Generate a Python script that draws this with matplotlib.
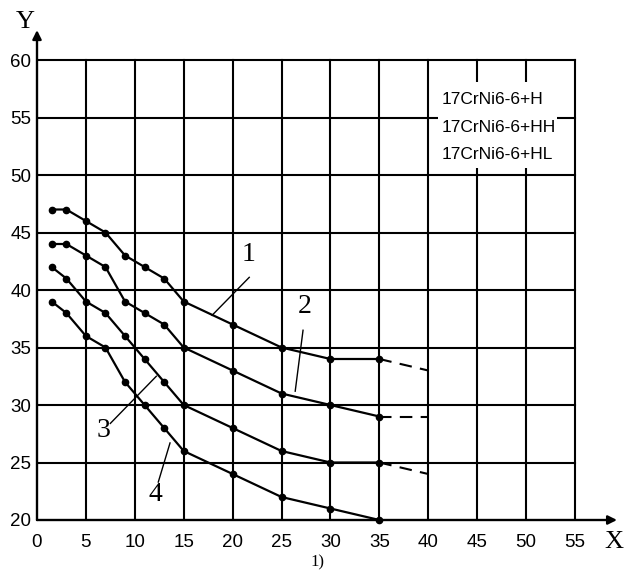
import matplotlib
matplotlib.use("Agg")
import matplotlib.pyplot as plt
from matplotlib.patches import Rectangle

# Hardness curves (distance X vs. value Y) for four grades
x_pts = [1.5, 3, 5, 7, 9, 11, 13, 15, 20, 25, 30, 35]
curve1 = [47, 47, 46, 45, 43, 42, 41, 39, 37, 35, 34, 34]
curve2 = [44, 44, 43, 42, 39, 38, 37, 35, 33, 31, 30, 29]
curve3 = [42, 41, 39, 38, 36, 34, 32, 30, 28, 26, 25, 25]
curve4 = [39, 38, 36, 35, 32, 30, 28, 26, 24, 22, 21, 20]

# Dashed continuation from x=35 to x=40 (curve 4 ends at 35)
ext_x = [35, 40]
ext1 = [34, 33]
ext2 = [29, 29]
ext3 = [25, 24]

curve_labels = ["1", "2", "3", "4"]
legend_lines = ["17CrNi6-6+H", "17CrNi6-6+HH", "17CrNi6-6+HL"]

x_ticks = [0, 5, 10, 15, 20, 25, 30, 35, 40, 45, 50, 55]
y_ticks = [20, 25, 30, 35, 40, 45, 50, 55, 60]

SANS = ["Liberation Sans", "DejaVu Sans"]
SERIF = ["Liberation Serif", "DejaVu Serif"]

fig = plt.figure(figsize=(6.3, 5.72), dpi=100)
fig.patch.set_facecolor("white")

XMAX, YMAX = 59.3, 62.6
ax = fig.add_axes([37 / 630, 52 / 572, 580 / 630, (520 - 30.1) / 572])
ax.set_xlim(0, XMAX)
ax.set_ylim(20, YMAX)
for s in ax.spines.values():
    s.set_visible(False)

# grid drawn as explicit segments
for xv in x_ticks[1:]:
    ax.plot([xv, xv], [20, 60], color="black", lw=1.5, zorder=1)
for yv in y_ticks[1:]:
    ax.plot([0, 55], [yv, yv], color="black", lw=1.5, zorder=1)

# axes with arrow heads
arrow = dict(arrowstyle="-|>", lw=1.7, color="black", mutation_scale=13,
             shrinkA=0, shrinkB=0)
ax.annotate("", xy=(XMAX, 20), xytext=(0, 20), arrowprops=arrow,
            annotation_clip=False, zorder=5)
ax.annotate("", xy=(0, YMAX), xytext=(0, 20), arrowprops=arrow,
            annotation_clip=False, zorder=5)

# legend text on a white patch
ax.add_patch(Rectangle((41.0, 50.6), 12.2, 7.5, facecolor="white",
                       edgecolor="none", zorder=3))
for txt, yy in zip(legend_lines, [56.6, 54.17, 51.74]):
    ax.text(41.4, yy, txt, ha="left", va="center", fontsize=12.5,
            family=SANS, zorder=4)

# curves
for ys in (curve1, curve2, curve3):
    ax.plot(x_pts, ys, color="black", lw=1.6, marker="o", ms=4.5, zorder=4)
ax.plot(x_pts, curve4, color="black", lw=1.6, marker="o", ms=4.5, zorder=4,
        clip_on=False)
for ys in (ext1, ext2, ext3):
    ax.plot(ext_x, ys, color="black", lw=1.5, dashes=(6, 4), zorder=4)

# curve numbers with leader lines
label_pos = [(21.6, 43.1), (27.4, 38.6), (6.8, 27.8), (12.1, 22.2)]
leaders = [((21.7, 41.1), (17.9, 37.8)),
           ((27.2, 36.5), (26.4, 31.2)),
           ((7.5, 28.4), (12.2, 32.5)),
           ((12.4, 23.3), (13.6, 26.7))]
for lab, (lx, ly), (p0, p1) in zip(curve_labels, label_pos, leaders):
    ax.text(lx, ly, lab, ha="center", va="center", fontsize=20,
            family=SERIF, zorder=6)
    ax.plot([p0[0], p1[0]], [p0[1], p1[1]], color="black", lw=1.0, zorder=6)

# ticks
ax.set_xticks(x_ticks)
ax.set_xticklabels([str(v) for v in x_ticks], family=SANS, fontsize=13.5)
ax.set_yticks(y_ticks)
ax.set_yticklabels([str(v) for v in y_ticks], family=SANS, fontsize=13.5)
ax.tick_params(axis="x", length=0, pad=10)
ax.tick_params(axis="y", length=0, pad=4)

# axis letters
fig.text(25 / 630, 1 - 22 / 572, "Y", ha="center", va="center",
         fontsize=19, family=SERIF)
fig.text(614 / 630, 1 - 542 / 572, "X", ha="center", va="center",
         fontsize=19, family=SERIF)

# panel caption at the lower edge
fig.text(317 / 630, 1 - 570 / 572, "1)", ha="center", va="bottom",
         fontsize=12, family=SERIF)

fig.savefig("out.png", dpi=100, facecolor="white")
